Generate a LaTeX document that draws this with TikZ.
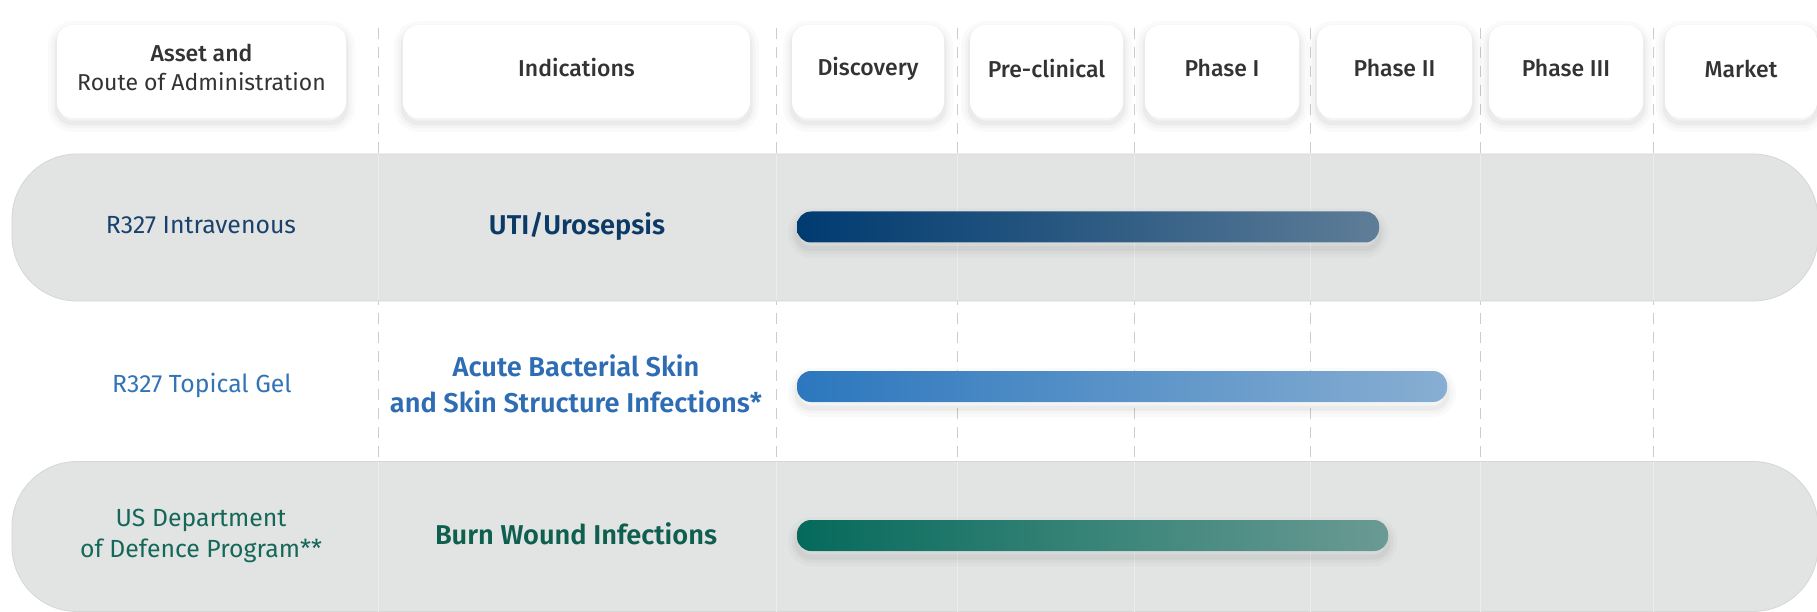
\documentclass[tikz,border=0pt]{standalone}
\usepackage{fontspec}
\setmainfont{Fira Sans}[BoldFont={Fira Sans SemiBold}]
\newfontfamily\medfont{Fira Sans Medium}

\definecolor{bandgrey}{HTML}{E2E4E3}
\definecolor{bandedge}{HTML}{D5D7D6}
\definecolor{gridgrey}{HTML}{CCCCCC}
\definecolor{gridfaint}{HTML}{EBECEB}
\definecolor{headtext}{HTML}{333333}
\definecolor{navy}{HTML}{0B3A66}
\definecolor{navylight}{HTML}{1A416D}
\definecolor{midblue}{HTML}{2E6DB3}
\definecolor{midbluelight}{HTML}{3474B4}
\definecolor{teal}{HTML}{0E5F50}
\definecolor{teallight}{HTML}{15675A}
% bar gradients
\definecolor{barAleft}{HTML}{003B71}
\definecolor{barAmid}{HTML}{2C5A82}
\definecolor{barAright}{HTML}{5E7D98}
\definecolor{barBleft}{HTML}{2C77BE}
\definecolor{barBmid}{HTML}{5A93C8}
\definecolor{barBright}{HTML}{88AED2}
\definecolor{barCleft}{HTML}{056A5B}
\definecolor{barCmid}{HTML}{388478}
\definecolor{barCright}{HTML}{6A9A94}

\begin{document}
\begin{tikzpicture}[x=1pt,y=-1pt,
  % soft drop shadow built from stacked translucent strokes
  softshadow/.style={
    preaction={draw=black, draw opacity=0.018, line width=18pt, transform canvas={yshift=-#1}},
    preaction={draw=black, draw opacity=0.025, line width=11pt, transform canvas={yshift=-#1}},
    preaction={draw=black, draw opacity=0.035, line width=5pt, transform canvas={yshift=-#1}}},
  headbox/.style={fill=white, rounded corners=16pt, softshadow=5pt,
    minimum height=93pt, inner sep=0pt},
  headlabel/.style={align=center, text=headtext, inner sep=0pt,
    font=\fontsize{23}{29.5}\selectfont\medfont},
  rowband/.style={draw=bandedge, line width=0.8pt, fill=bandgrey,
    rounded corners=65pt, minimum width=1806pt, inner sep=0pt},
  stagebar/.style={rounded corners=14pt, minimum height=31pt, inner sep=0pt,
    softshadow=6pt},
  asset/.style={align=center, font=\fontsize{24.8}{31}\selectfont},
  indication/.style={align=center, font=\fontsize{27.2}{35.5}\selectfont\bfseries},
  gridline/.style={gridgrey, line width=0.8pt, dash pattern=on 11pt off 8pt},
  bandline/.style={gridfaint, line width=1pt},
]
\useasboundingbox (0,0) rectangle (1817,612);
\fill[white] (0,0) rectangle (1817,612);

% column separators
\foreach \cx [count=\i] in {378,776,957,1134,1310,1480,1653}{
  \coordinate (top\i) at (\cx,28);
  \coordinate (bot\i) at (\cx,612);
  \draw[gridline] (top\i) -- (bot\i);
}

% row bands
\node[rowband, minimum height=147pt] (band1) at (915,227.5) {};
\node[rowband, minimum height=150pt] (band3) at (915,536.5) {};

% faint separators across the bands
\foreach \cx [count=\i] in {378,776,957,1134,1310,1480,1653}{
  \coordinate (b1t\i) at (\cx,155);
  \coordinate (b1b\i) at (\cx,300);
  \coordinate (b3t\i) at (\cx,462);
  \coordinate (b3b\i) at (\cx,612);
  \draw[bandline] (b1t\i) -- (b1b\i);
  \draw[bandline] (b3t\i) -- (b3b\i);
}

% header boxes
\node[headbox, minimum width=289pt] (hasset) at (201.5,71.5) {};
\node[headbox, minimum width=347pt] (hind) at (576.5,71.5) {};
\node[headbox, minimum width=152pt] (hdisc) at (868,71.5) {};
\node[headbox, minimum width=153pt] (hpre) at (1046.5,71.5) {};
\node[headbox, minimum width=154pt] (hp1) at (1222,71.5) {};
\node[headbox, minimum width=155pt] (hp2) at (1394.5,71.5) {};
\node[headbox, minimum width=154pt] (hp3) at (1566,71.5) {};
\node[headbox, minimum width=152pt] (hmkt) at (1741,71.5) {};

% header labels
\node[headlabel] (lasset) at ([yshift=4pt]hasset.center)
  {Asset and\\{\rmfamily\mdseries Route of Administration}};
\node[headlabel] (lind) at ([yshift=4pt]hind.center) {Indications};
\node[headlabel] (ldisc) at ([yshift=3pt]hdisc.center) {Discovery};
\node[headlabel] (lpre) at ([yshift=3pt]hpre.center) {Pre-clinical};
\node[headlabel] (lp1) at ([yshift=3pt]hp1.center) {Phase I};
\node[headlabel] (lp2) at ([yshift=3pt]hp2.center) {Phase II};
\node[headlabel] (lp3) at ([yshift=3pt]hp3.center) {Phase III};
\node[headlabel] (lmkt) at ([yshift=3pt]hmkt.center) {Market};

% row 1
\node[asset, text=navylight] (a1) at (201,225) {R327 Intravenous};
\node[indication, text=navy] (i1) at (577,226) {UTI/Urosepsis};
\node[stagebar, minimum width=582pt, left color=barAleft, right color=barAright,
  middle color=barAmid] (bar1) at (1088,227) {};

% row 2
\node[asset, text=midbluelight] (a2) at (202,385) {R327 Topical Gel};
\node[indication, text=midblue] (i2) at (576,384)
  {Acute Bacterial Skin\\and Skin Structure Infections*};
\node[stagebar, minimum width=650pt, left color=barBleft, right color=barBright,
  middle color=barBmid] (bar2) at (1122,386.5) {};

% row 3
\node[asset, text=teallight] (a3) at (201,536)
  {US Department\\of Defence Program**};
\node[indication, text=teal] (i3) at (576,534) {Burn Wound Infections};
\node[stagebar, minimum width=591pt, left color=barCleft, right color=barCright,
  middle color=barCmid] (bar3) at (1092.5,535.5) {};
\end{tikzpicture}
\end{document}
